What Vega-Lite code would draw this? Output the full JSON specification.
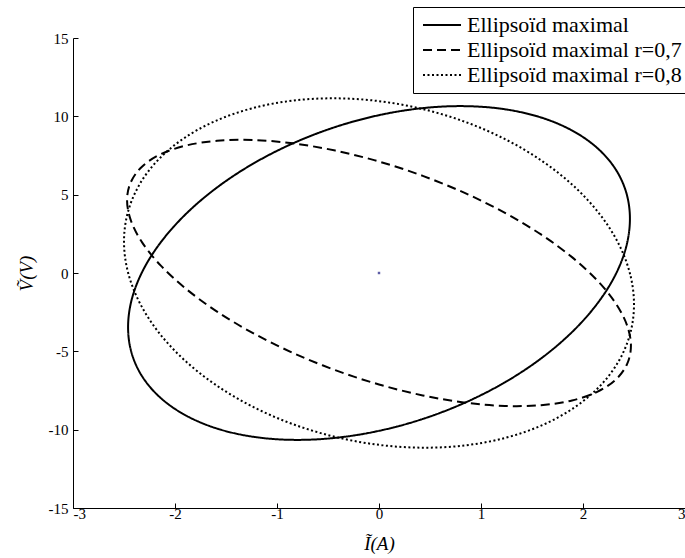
{
  "$schema": "https://vega.github.io/schema/vega-lite/v6.json",
  "autosize": "none",
  "width": 612,
  "height": 470,
  "padding": {"left": 73, "top": 38, "right": 0, "bottom": 50},
  "background": "white",
  "config": {
    "view": {"stroke": null},
    "font": "Liberation Serif",
    "axis": {
      "grid": false,
      "domainColor": "black",
      "domainWidth": 1,
      "tickColor": "black",
      "tickSize": -5,
      "labelFont": "Liberation Serif",
      "labelFontSize": 15,
      "labelColor": "black",
      "titleFont": "Liberation Serif",
      "titleFontSize": 19,
      "titleFontStyle": "italic",
      "titleFontWeight": "normal",
      "titleColor": "black"
    }
  },
  "layer": [
    {
      "data": {
        "values": [
          {"serie": "Ellipsoïd maximal", "t": 0, "x": 2.46, "y": 3.46},
          {"serie": "Ellipsoïd maximal", "t": 10, "x": 2.423, "y": 5.157},
          {"serie": "Ellipsoïd maximal", "t": 20, "x": 2.312, "y": 6.698},
          {"serie": "Ellipsoïd maximal", "t": 30, "x": 2.13, "y": 8.035},
          {"serie": "Ellipsoïd maximal", "t": 40, "x": 1.884, "y": 9.127},
          {"serie": "Ellipsoïd maximal", "t": 50, "x": 1.581, "y": 9.943},
          {"serie": "Ellipsoïd maximal", "t": 60, "x": 1.23, "y": 10.456},
          {"serie": "Ellipsoïd maximal", "t": 70, "x": 0.841, "y": 10.651},
          {"serie": "Ellipsoïd maximal", "t": 80, "x": 0.427, "y": 10.523},
          {"serie": "Ellipsoïd maximal", "t": 90, "x": 0, "y": 10.075},
          {"serie": "Ellipsoïd maximal", "t": 100, "x": -0.427, "y": 9.321},
          {"serie": "Ellipsoïd maximal", "t": 110, "x": -0.841, "y": 8.283},
          {"serie": "Ellipsoïd maximal", "t": 120, "x": -1.23, "y": 6.994},
          {"serie": "Ellipsoïd maximal", "t": 130, "x": -1.581, "y": 5.493},
          {"serie": "Ellipsoïd maximal", "t": 140, "x": -1.884, "y": 3.825},
          {"serie": "Ellipsoïd maximal", "t": 150, "x": -2.13, "y": 2.041},
          {"serie": "Ellipsoïd maximal", "t": 160, "x": -2.312, "y": 0.194},
          {"serie": "Ellipsoïd maximal", "t": 170, "x": -2.423, "y": -1.659},
          {"serie": "Ellipsoïd maximal", "t": 180, "x": -2.46, "y": -3.46},
          {"serie": "Ellipsoïd maximal", "t": 190, "x": -2.423, "y": -5.157},
          {"serie": "Ellipsoïd maximal", "t": 200, "x": -2.312, "y": -6.698},
          {"serie": "Ellipsoïd maximal", "t": 210, "x": -2.13, "y": -8.035},
          {"serie": "Ellipsoïd maximal", "t": 220, "x": -1.884, "y": -9.127},
          {"serie": "Ellipsoïd maximal", "t": 230, "x": -1.581, "y": -9.943},
          {"serie": "Ellipsoïd maximal", "t": 240, "x": -1.23, "y": -10.456},
          {"serie": "Ellipsoïd maximal", "t": 250, "x": -0.841, "y": -10.651},
          {"serie": "Ellipsoïd maximal", "t": 260, "x": -0.427, "y": -10.523},
          {"serie": "Ellipsoïd maximal", "t": 270, "x": 0, "y": -10.075},
          {"serie": "Ellipsoïd maximal", "t": 280, "x": 0.427, "y": -9.321},
          {"serie": "Ellipsoïd maximal", "t": 290, "x": 0.841, "y": -8.283},
          {"serie": "Ellipsoïd maximal", "t": 300, "x": 1.23, "y": -6.994},
          {"serie": "Ellipsoïd maximal", "t": 310, "x": 1.581, "y": -5.493},
          {"serie": "Ellipsoïd maximal", "t": 320, "x": 1.884, "y": -3.825},
          {"serie": "Ellipsoïd maximal", "t": 330, "x": 2.13, "y": -2.041},
          {"serie": "Ellipsoïd maximal", "t": 340, "x": 2.312, "y": -0.194},
          {"serie": "Ellipsoïd maximal", "t": 350, "x": 2.423, "y": 1.659},

          {"serie": "Ellipsoïd maximal r=0,7", "t": 0, "x": 2.47, "y": -4.65},
          {"serie": "Ellipsoïd maximal r=0,7", "t": 10, "x": 2.432, "y": -3.344},
          {"serie": "Ellipsoïd maximal r=0,7", "t": 20, "x": 2.321, "y": -1.937},
          {"serie": "Ellipsoïd maximal r=0,7", "t": 30, "x": 2.139, "y": -0.469},
          {"serie": "Ellipsoïd maximal r=0,7", "t": 40, "x": 1.892, "y": 1.012},
          {"serie": "Ellipsoïd maximal r=0,7", "t": 50, "x": 1.588, "y": 2.461},
          {"serie": "Ellipsoïd maximal r=0,7", "t": 60, "x": 1.235, "y": 3.837},
          {"serie": "Ellipsoïd maximal r=0,7", "t": 70, "x": 0.845, "y": 5.096},
          {"serie": "Ellipsoïd maximal r=0,7", "t": 80, "x": 0.429, "y": 6.2},
          {"serie": "Ellipsoïd maximal r=0,7", "t": 90, "x": 0, "y": 7.115},
          {"serie": "Ellipsoïd maximal r=0,7", "t": 100, "x": -0.429, "y": 7.814},
          {"serie": "Ellipsoïd maximal r=0,7", "t": 110, "x": -0.845, "y": 8.276},
          {"serie": "Ellipsoïd maximal r=0,7", "t": 120, "x": -1.235, "y": 8.487},
          {"serie": "Ellipsoïd maximal r=0,7", "t": 130, "x": -1.588, "y": 8.439},
          {"serie": "Ellipsoïd maximal r=0,7", "t": 140, "x": -1.892, "y": 8.136},
          {"serie": "Ellipsoïd maximal r=0,7", "t": 150, "x": -2.139, "y": 7.585},
          {"serie": "Ellipsoïd maximal r=0,7", "t": 160, "x": -2.321, "y": 6.803},
          {"serie": "Ellipsoïd maximal r=0,7", "t": 170, "x": -2.432, "y": 5.814},
          {"serie": "Ellipsoïd maximal r=0,7", "t": 180, "x": -2.47, "y": 4.65},
          {"serie": "Ellipsoïd maximal r=0,7", "t": 190, "x": -2.432, "y": 3.344},
          {"serie": "Ellipsoïd maximal r=0,7", "t": 200, "x": -2.321, "y": 1.937},
          {"serie": "Ellipsoïd maximal r=0,7", "t": 210, "x": -2.139, "y": 0.469},
          {"serie": "Ellipsoïd maximal r=0,7", "t": 220, "x": -1.892, "y": -1.012},
          {"serie": "Ellipsoïd maximal r=0,7", "t": 230, "x": -1.588, "y": -2.461},
          {"serie": "Ellipsoïd maximal r=0,7", "t": 240, "x": -1.235, "y": -3.837},
          {"serie": "Ellipsoïd maximal r=0,7", "t": 250, "x": -0.845, "y": -5.096},
          {"serie": "Ellipsoïd maximal r=0,7", "t": 260, "x": -0.429, "y": -6.2},
          {"serie": "Ellipsoïd maximal r=0,7", "t": 270, "x": 0, "y": -7.115},
          {"serie": "Ellipsoïd maximal r=0,7", "t": 280, "x": 0.429, "y": -7.814},
          {"serie": "Ellipsoïd maximal r=0,7", "t": 290, "x": 0.845, "y": -8.276},
          {"serie": "Ellipsoïd maximal r=0,7", "t": 300, "x": 1.235, "y": -8.487},
          {"serie": "Ellipsoïd maximal r=0,7", "t": 310, "x": 1.588, "y": -8.439},
          {"serie": "Ellipsoïd maximal r=0,7", "t": 320, "x": 1.892, "y": -8.136},
          {"serie": "Ellipsoïd maximal r=0,7", "t": 330, "x": 2.139, "y": -7.585},
          {"serie": "Ellipsoïd maximal r=0,7", "t": 340, "x": 2.321, "y": -6.803},
          {"serie": "Ellipsoïd maximal r=0,7", "t": 350, "x": 2.432, "y": -5.814},

          {"serie": "Ellipsoïd maximal r=0,8", "t": 0, "x": 2.5, "y": -2.007},
          {"serie": "Ellipsoïd maximal r=0,8", "t": 10, "x": 2.462, "y": -0.073},
          {"serie": "Ellipsoïd maximal r=0,8", "t": 20, "x": 2.349, "y": 1.866},
          {"serie": "Ellipsoïd maximal r=0,8", "t": 30, "x": 2.165, "y": 3.747},
          {"serie": "Ellipsoïd maximal r=0,8", "t": 40, "x": 1.915, "y": 5.515},
          {"serie": "Ellipsoïd maximal r=0,8", "t": 50, "x": 1.607, "y": 7.113},
          {"serie": "Ellipsoïd maximal r=0,8", "t": 60, "x": 1.25, "y": 8.496},
          {"serie": "Ellipsoïd maximal r=0,8", "t": 70, "x": 0.855, "y": 9.623},
          {"serie": "Ellipsoïd maximal r=0,8", "t": 80, "x": 0.434, "y": 10.455},
          {"serie": "Ellipsoïd maximal r=0,8", "t": 90, "x": 0, "y": 10.97},
          {"serie": "Ellipsoïd maximal r=0,8", "t": 100, "x": -0.434, "y": 11.151},
          {"serie": "Ellipsoïd maximal r=0,8", "t": 110, "x": -0.855, "y": 10.995},
          {"serie": "Ellipsoïd maximal r=0,8", "t": 120, "x": -1.25, "y": 10.504},
          {"serie": "Ellipsoïd maximal r=0,8", "t": 130, "x": -1.607, "y": 9.693},
          {"serie": "Ellipsoïd maximal r=0,8", "t": 140, "x": -1.915, "y": 8.589},
          {"serie": "Ellipsoïd maximal r=0,8", "t": 150, "x": -2.165, "y": 7.223},
          {"serie": "Ellipsoïd maximal r=0,8", "t": 160, "x": -2.349, "y": 5.638},
          {"serie": "Ellipsoïd maximal r=0,8", "t": 170, "x": -2.462, "y": 3.881},
          {"serie": "Ellipsoïd maximal r=0,8", "t": 180, "x": -2.5, "y": 2.007},
          {"serie": "Ellipsoïd maximal r=0,8", "t": 190, "x": -2.462, "y": 0.073},
          {"serie": "Ellipsoïd maximal r=0,8", "t": 200, "x": -2.349, "y": -1.866},
          {"serie": "Ellipsoïd maximal r=0,8", "t": 210, "x": -2.165, "y": -3.747},
          {"serie": "Ellipsoïd maximal r=0,8", "t": 220, "x": -1.915, "y": -5.515},
          {"serie": "Ellipsoïd maximal r=0,8", "t": 230, "x": -1.607, "y": -7.113},
          {"serie": "Ellipsoïd maximal r=0,8", "t": 240, "x": -1.25, "y": -8.496},
          {"serie": "Ellipsoïd maximal r=0,8", "t": 250, "x": -0.855, "y": -9.623},
          {"serie": "Ellipsoïd maximal r=0,8", "t": 260, "x": -0.434, "y": -10.455},
          {"serie": "Ellipsoïd maximal r=0,8", "t": 270, "x": 0, "y": -10.97},
          {"serie": "Ellipsoïd maximal r=0,8", "t": 280, "x": 0.434, "y": -11.151},
          {"serie": "Ellipsoïd maximal r=0,8", "t": 290, "x": 0.855, "y": -10.995},
          {"serie": "Ellipsoïd maximal r=0,8", "t": 300, "x": 1.25, "y": -10.504},
          {"serie": "Ellipsoïd maximal r=0,8", "t": 310, "x": 1.607, "y": -9.693},
          {"serie": "Ellipsoïd maximal r=0,8", "t": 320, "x": 1.915, "y": -8.589},
          {"serie": "Ellipsoïd maximal r=0,8", "t": 330, "x": 2.165, "y": -7.223},
          {"serie": "Ellipsoïd maximal r=0,8", "t": 340, "x": 2.349, "y": -5.638},
          {"serie": "Ellipsoïd maximal r=0,8", "t": 350, "x": 2.462, "y": -3.881}
        ]
      },
      "mark": {"type": "line", "color": "black", "strokeWidth": 2, "interpolate": "cardinal-closed", "clip": false},
      "encoding": {
        "x": {
          "field": "x", "type": "quantitative",
          "scale": {"domain": [-3, 3], "nice": false, "zero": false},
          "axis": {"values": [-3, -2, -1, 0, 1, 2, 3], "labelExpr": "'' + datum.value", "title": "Ĩ(A)", "labelPadding": 3, "titlePadding": 13}
        },
        "y": {
          "field": "y", "type": "quantitative",
          "scale": {"domain": [-15, 15], "nice": false, "zero": false},
          "axis": {"values": [-15, -10, -5, 0, 5, 10, 15], "labelExpr": "'' + datum.value", "title": "Ṽ(V)", "labelPadding": 10, "titlePadding": 12}
        },
        "order": {"field": "t", "type": "quantitative"},
        "strokeDash": {
          "field": "serie", "type": "nominal",
          "scale": {
            "domain": ["Ellipsoïd maximal", "Ellipsoïd maximal r=0,7", "Ellipsoïd maximal r=0,8"],
            "range": [[1, 0], [9, 5], [2, 2.5]]
          },
          "legend": {
            "title": null,
            "orient": "none",
            "legendX": 340,
            "legendY": -31,
            "direction": "vertical",
            "fillColor": "white",
            "strokeColor": "black",
            "padding": 7,
            "symbolType": "M-0.8,0H3",
            "symbolSize": 400,
            "symbolStrokeWidth": 2,
            "symbolStrokeColor": "black",
            "labelFont": "Liberation Serif",
            "labelFontSize": 22,
            "labelColor": "black",
            "labelOffset": 25,
            "labelLimit": 400,
            "rowPadding": 3
          }
        }
      }
    },
    {
      "data": {"values": [{"x": 0, "y": 0}]},
      "mark": {"type": "point", "filled": true, "color": "#1a1a80", "size": 6, "shape": "square"},
      "encoding": {
        "x": {"field": "x", "type": "quantitative"},
        "y": {"field": "y", "type": "quantitative"}
      }
    }
  ]
}
